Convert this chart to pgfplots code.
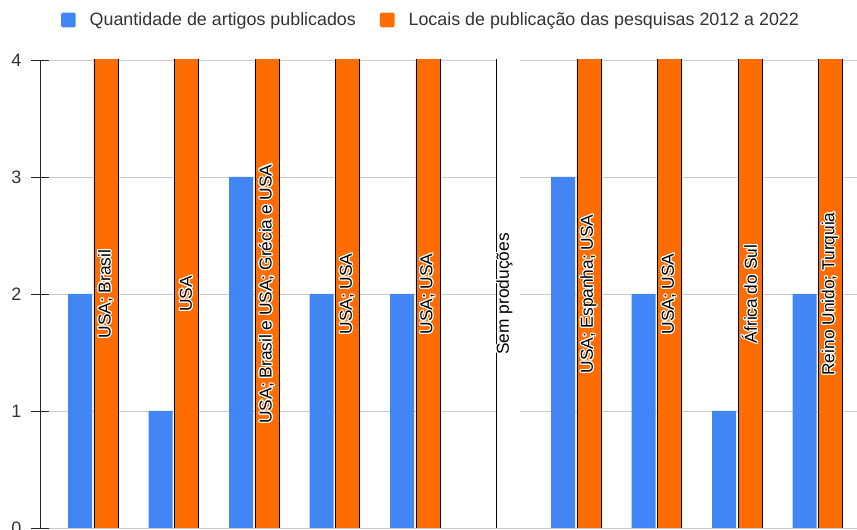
\documentclass[border=0pt]{standalone}
\usepackage{pgfplots}
\usepackage{pgfplotstable}
\pgfplotsset{compat=1.18}
\usepackage{fontspec}
\setmainfont{Liberation Sans}
\usepackage[copies]{contour}
\contourlength{0.8pt}
\protected\def\semi{;}
\definecolor{gblue}{HTML}{4285F4}
\definecolor{gorange}{HTML}{FF6D01}
\definecolor{ggrid}{HTML}{CCCCCC}
\pgfplotstableread[col sep=comma]{
x,y,label
0.161,2,{USA\semi{} Brasil}
1.161,2,{USA}
2.161,2,{USA\semi{} Brasil e USA\semi{} Grécia e USA}
3.161,2,{USA\semi{} USA}
4.161,2,{USA\semi{} USA}
5.118,2,{Sem produções}
6.161,2,{USA\semi{} Espanha\semi{} USA}
7.161,2,{USA\semi{} USA}
8.161,2,{África do Sul}
9.161,2,{Reino Unido\semi{} Turquia}
}\labeltable
\begin{document}
\begin{tikzpicture}
\useasboundingbox (0,0) rectangle (642.75pt,397.5pt);
\begin{axis}[
  at={(30pt,1.5pt)}, anchor=south west,
  scale only axis, width=612.75pt, height=351pt,
  xmin=-0.658, xmax=9.49, ymin=0, ymax=4,
  xtick=\empty,
  ytick={0,1,2,3,4},
  ymajorgrids, grid style={ggrid, line width=0.6pt},
  axis lines*=left,
  x axis line style={draw=none},
  y axis line style={black!85, line width=0.7pt},
  tick align=center, major tick length=12.75pt,
  ytick style={black!85, line width=0.7pt},
  yticklabel style={font=\fontsize{13.5}{15}\selectfont, text=black!80, xshift=-4pt},
  /pgf/number format/assume math mode=true,
  legend style={at={(0.479,1.0855)}, anchor=center, draw=none, legend columns=2,
    font=\fontsize{13.4}{15}\selectfont, text=black!80,
    /tikz/every odd column/.append style={column sep=8.5pt},
    /tikz/every even column/.append style={column sep=16pt}},
  legend image code/.code={\fill[#1, draw=none, rounded corners=1.5pt] (0pt,-5.5pt) rectangle (11pt,5.5pt);},
]
\addplot[ybar, bar width=0.298, bar shift=-0.161, fill=gblue, draw=none]
  coordinates {(0,2) (1,1) (2,3) (3,2) (4,2) (6,3) (7,2) (8,1) (9,2)};
\addlegendentry{Quantidade de artigos publicados}
\addplot[ybar, bar width=0.298, bar shift=0.161, fill=gorange, draw=black, line width=0.6pt]
  coordinates {(0,5) (1,5) (2,5) (3,5) (4,5) (6,5) (7,5) (8,5) (9,5)};
\addlegendentry{Locais de publicação das pesquisas 2012 a 2022}
\addplot[ybar, bar width=0.298, bar shift=0.161, fill=white, draw=none, forget plot]
  coordinates {(5,5)};
\addplot[ybar, bar width=0.012, bar shift=0.012, fill=black, draw=none, forget plot]
  coordinates {(5,5)};
\addplot[draw=none, mark=none, forget plot,
  nodes near coords={\contour{white}{\pgfplotspointmeta}},
  point meta=explicit symbolic,
  nodes near coords align=center,
  every node near coord/.append style={rotate=90, anchor=center, inner sep=0pt,
    font=\fontsize{13}{15}\selectfont, text=black}]
  table[x=x, y=y, meta=label] {\labeltable};
\end{axis}
\end{tikzpicture}
\end{document}
